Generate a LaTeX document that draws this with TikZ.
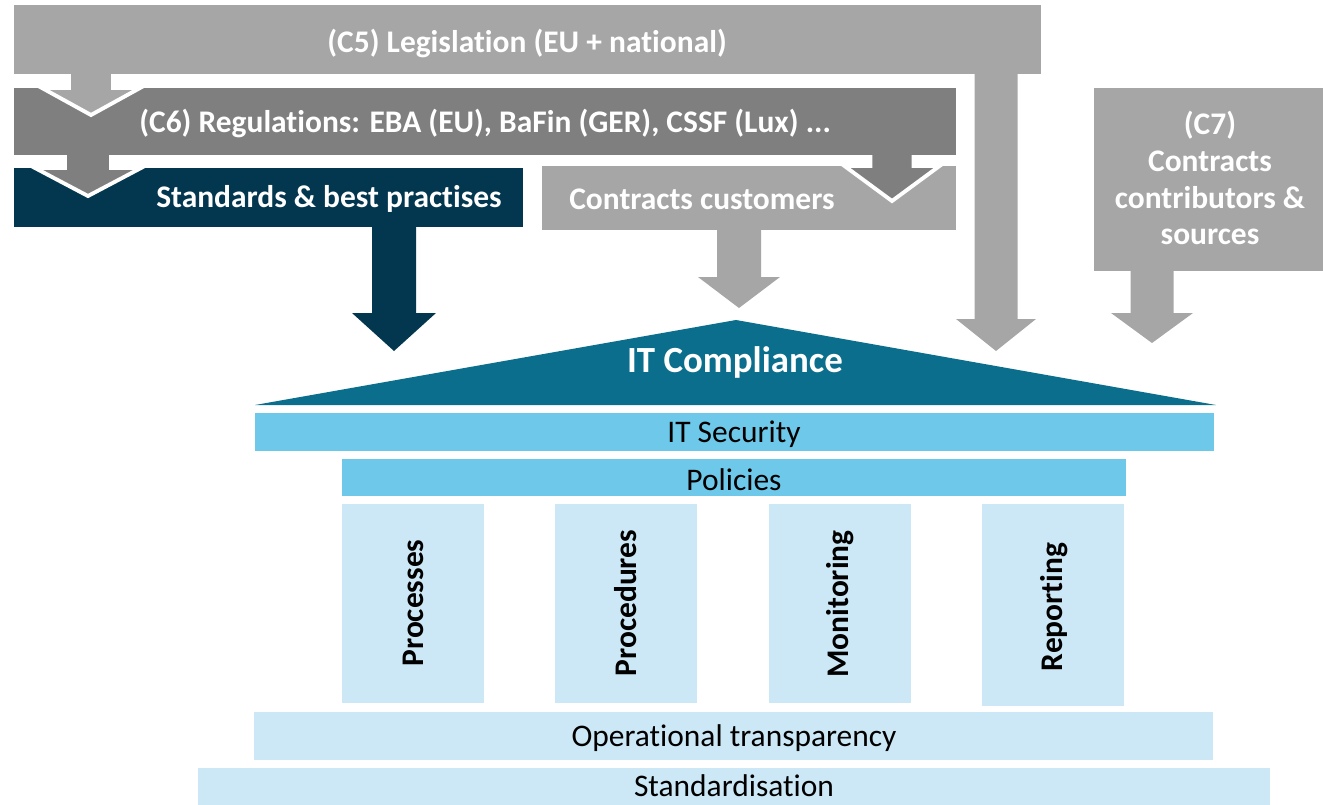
\documentclass[tikz,border=0pt]{standalone}
\usepackage{fontspec}
\setmainfont{Carlito}[Ligatures={NoCommon,NoRare,NoContextual}]
\usetikzlibrary{fit}
\definecolor{gA}{HTML}{A6A6A6}
\definecolor{gB}{HTML}{7F7F7F}
\definecolor{cnavy}{HTML}{03374F}
\definecolor{cteal}{HTML}{0A6E8C}
\definecolor{lblue}{HTML}{6DC8E9}
\definecolor{pblue}{HTML}{CCE8F6}
% [style]{xc}{ytop}{yhead}{ytip}{half shaft}{half head}
\newcommand\blockarr[7][]{%
  \path[#1] (#2-#6,#3) -- (#2-#6,#4) -- (#2-#7,#4) -- (#2,#5) -- (#2+#7,#4) -- (#2+#6,#4) -- (#2+#6,#3);}
\begin{document}
\begin{tikzpicture}[x=0.02cm,y=-0.02cm,
  box/.style={inner sep=0, outer sep=0, draw=none},
  wlab/.style={text=white, font=\fontsize{17.9}{21}\selectfont\bfseries, inner sep=0, align=center},
  klab/.style={text=black, font=\fontsize{17.9}{21}\selectfont, inner sep=0},
  vlab/.style={text=black, font=\fontsize{17.9}{21}\selectfont\bfseries, inner sep=0, rotate=90},
  chev/.style={draw=white, line width=2.2pt}]
\useasboundingbox (0,0) rectangle (1323,805);

% C5 box
\node[box, fill=gA, fit={(14,5) (1041,74)}] (c5) {};
\node[wlab] (c5t) at (527,43) {(C5) Legislation (EU + national)};
% C5 long arrow
\blockarr[fill=gA]{996}{73}{319}{351}{21.5}{40}

% C6 box
\node[box, fill=gB, fit={(14,88) (956,155)}] (c6) {};
\node[wlab] (c6t) at (485,123) {(C6) Regulations: EBA (EU), BaFin (GER), CSSF (Lux) ...};
\blockarr[fill=gA, chev]{91}{74}{88}{115}{22}{49}

% Standards and Contracts customers
\node[box, fill=cnavy, fit={(14,168) (523,227)}] (std) {};
\node[wlab, anchor=east] (stdt) at (502,199) {Standards \& best practises};
\node[box, fill=gA, fit={(542,166) (956,230)}] (cc) {};
\node[wlab, anchor=west] (cct) at (569,199) {Contracts customers};
\blockarr[fill=gB, chev]{88}{155}{168}{196}{23}{53}
\blockarr[fill=gB, chev]{892}{155}{166}{201}{21.5}{47.5}

% C7
\node[box, fill=gA, fit={(1094,88) (1323,271)}] (c7) {};
\node[wlab] (c7t) at (1210,178) {(C7)\\Contracts\\contributors \&\\sources};

% arrows to IT Compliance
\blockarr[fill=cnavy]{394}{226}{313}{351}{22}{42}
\blockarr[fill=gA]{739}{229}{277}{308}{22}{41}
\blockarr[fill=gA]{1152}{270}{313}{343}{21.5}{41}

% IT Compliance roof
\fill[cteal] (255,405) -- (736,320) -- (1216,405) -- cycle;
\node[wlab, font=\fontsize{21}{25}\selectfont\bfseries] (itc) at (735,362) {IT Compliance};

% bars
\node[box, fill=lblue, fit={(255,413) (1214,451)}] (sec) {};
\node[klab] at (734,434) {IT Security};
\node[box, fill=lblue, fit={(342,459) (1126,496)}] (pol) {};
\node[klab] at (734,480) {Policies};

% pillars
\node[box, fill=pblue, fit={(342,504) (484,703)}] (p1) {};
\node[vlab] at (413,603) {Processes};
\node[box, fill=pblue, fit={(555,504) (697,703)}] (p2) {};
\node[vlab] at (626,603) {Procedures};
\node[box, fill=pblue, fit={(769,504) (911,703)}] (p3) {};
\node[vlab] at (840,604) {Monitoring};
\node[box, fill=pblue, fit={(982,504) (1124,706)}] (p4) {};
\node[vlab] at (1054,607) {Reporting};

% base
\node[box, fill=pblue, fit={(254,712) (1213,760)}] (ops) {};
\node[klab] at (734,738) {Operational transparency};
\node[box, fill=pblue, fit={(198,768) (1270,805)}] (stdz) {};
\node[klab] at (734,786) {Standardisation};
\end{tikzpicture}
\end{document}
